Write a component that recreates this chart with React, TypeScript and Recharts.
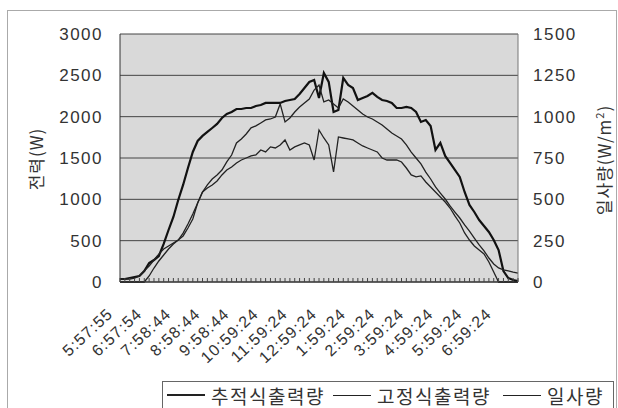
import React from 'react';
import { LineChart, Line, XAxis, YAxis, CartesianGrid } from 'recharts';

// 시각 라벨 (6칸마다 하나, 약 10분 간격 데이터)
const timeLabels = [
  '5:57:55', '6:57:54', '7:58:44', '8:58:44', '9:58:44', '10:59:24', '11:59:24',
  '12:59:24', '1:59:24', '2:59:24', '3:59:24', '4:59:24', '5:59:24', '6:59:24',
];

// 추적식 출력량 (W)
const trackingOutput = [
  36, 36, 48, 60, 72, 133, 230, 266, 315, 460, 629, 787, 992, 1174, 1379, 1573,
  1706, 1767, 1815, 1863, 1912, 1984, 2033, 2057, 2093, 2093, 2105, 2105, 2129,
  2141, 2166, 2166, 2166, 2166, 2190, 2202, 2214, 2275, 2347, 2420, 2444, 2226,
  2529, 2420, 2057, 2081, 2468, 2384, 2347, 2202, 2226, 2250, 2287, 2239, 2202,
  2190, 2166, 2105, 2105, 2117, 2105, 2057, 1936, 1960, 1887, 1597, 1682, 1525,
  1440, 1355, 1271, 1089, 932, 847, 750, 678, 605, 508, 387, 133, 48, 24, 12,
];

// 고정식 출력량 (W)
const fixedOutput = [
  0, 0, 0, 0, 0, 0, 73, 169, 254, 327, 399, 460, 508, 557, 653, 762, 956, 1089,
  1137, 1174, 1222, 1295, 1355, 1392, 1440, 1476, 1500, 1525, 1537, 1597, 1573,
  1634, 1621, 1658, 1718, 1597, 1634, 1658, 1682, 1658, 1476, 1839, 1742, 1658,
  1331, 1755, 1742, 1730, 1718, 1682, 1646, 1621, 1597, 1573, 1500, 1476, 1476,
  1476, 1452, 1379, 1295, 1271, 1283, 1210, 1150, 1089, 1029, 968, 895, 799, 714,
  593, 508, 436, 387, 339, 242, 121, 0, 0, 0, 0, 0,
];

// 일사량 (W/m²)
const irradiance = [
  18, 18, 18, 24, 36, 67, 97, 133, 169, 200, 218, 236, 254, 296, 351, 411, 478,
  544, 587, 623, 647, 677, 726, 768, 841, 865, 895, 932, 944, 962, 980, 986, 998,
  1077, 968, 992, 1028, 1058, 1083, 1107, 1161, 1191, 1089, 1101, 1077, 1052,
  1107, 1089, 1065, 1040, 1016, 998, 986, 968, 950, 925, 901, 883, 865, 829, 786,
  750, 714, 665, 623, 575, 538, 502, 460, 423, 387, 345, 308, 266, 224, 188, 145,
  109, 85, 73, 67, 60, 54,
];

const powerTicks = [0, 500, 1000, 1500, 2000, 2500, 3000];
const irrTicks = [0, 250, 500, 750, 1000, 1250, 1500];

const data = trackingOutput.map((v, i) => ({
  i,
  tracking: v,
  fixed: fixedOutput[i],
  irr: irradiance[i],
}));

const allTicks = data.map((d) => d.i);

const axisFont = 'Liberation Sans, Arial, sans-serif';
const krFont = '"Noto Sans CJK KR", "Noto Sans", sans-serif';

function TimeTick(props: any) {
  const { x, y, payload } = props;
  const idx = payload.value as number;
  const label = idx % 6 === 0 ? timeLabels[idx / 6] : null;
  const tx = x - 6;
  const ty = y + 33;
  return (
    <g>
      <line x1={x} y1={y} x2={x} y2={y - 4} stroke="#444" strokeWidth={1} />
      {label && (
        <text
          x={tx}
          y={ty}
          transform={`rotate(-43, ${tx}, ${ty})`}
          textAnchor="end"
          fontSize={16}
          fontFamily={axisFont}
          letterSpacing={1.2}
          fill="#333"
        >
          {label}
        </text>
      )}
    </g>
  );
}

function LegendItem({ left, width, thick, text }: { left: number; width: number; thick: boolean; text: string }) {
  return (
    <div style={{ position: 'absolute', left, top: 0, height: 26, display: 'flex', alignItems: 'center' }}>
      <div style={{ width, height: thick ? 2 : 1, background: '#222', marginRight: 6 }} />
      <span style={{ fontSize: 19, letterSpacing: 1.5, color: '#333', fontFamily: krFont, whiteSpace: 'nowrap' }}>
        {text}
      </span>
    </div>
  );
}

export default function App() {
  return (
    <div style={{ position: 'absolute', left: 0, top: 0, width: 618, height: 408, background: '#fff', overflow: 'hidden' }}>
      <div style={{ position: 'absolute', left: 7, top: 10, width: 608, height: 420, border: '1px solid #aaa' }} />
      <div style={{ position: 'absolute', left: 0, top: 0 }}>
        <LineChart width={618} height={408} data={data} margin={{ top: 34, right: 0, bottom: 0, left: 0 }}>
          <CartesianGrid yAxisId="left" vertical={false} stroke="#444" fill="#d9d9d9" />
          <XAxis
            dataKey="i"
            type="number"
            domain={[0, 82]}
            ticks={allTicks}
            interval={0}
            height={126}
            tickSize={0}
            tickMargin={0}
            axisLine={{ stroke: '#222' }}
            tickLine={false}
            tick={<TimeTick />}
          />
          <YAxis
            yAxisId="left"
            width={120}
            domain={[0, 3000]}
            ticks={powerTicks}
            tickSize={0}
            tickMargin={17}
            axisLine={{ stroke: '#333' }}
            tickLine={false}
            tick={{ fontSize: 17, fill: '#333', fontFamily: axisFont, letterSpacing: 1.5 }}
          />
          <YAxis
            yAxisId="right"
            orientation="right"
            width={100}
            domain={[0, 1500]}
            ticks={irrTicks}
            tickSize={0}
            tickMargin={15}
            axisLine={{ stroke: '#777' }}
            tickLine={false}
            tick={{ fontSize: 17, fill: '#333', fontFamily: axisFont, letterSpacing: 1.5, textAnchor: 'start' }}
          />
          <Line yAxisId="left" dataKey="tracking" stroke="#111" strokeWidth={2.2} dot={false} isAnimationActive={false} />
          <Line yAxisId="left" dataKey="fixed" stroke="#222" strokeWidth={1.3} dot={false} isAnimationActive={false} />
          <Line yAxisId="right" dataKey="irr" stroke="#222" strokeWidth={1.3} dot={false} isAnimationActive={false} />
        </LineChart>
      </div>
      <div
        style={{
          position: 'absolute', left: 35, top: 159, transform: 'translate(-50%, -50%) rotate(-90deg)',
          fontSize: 17, color: '#333', fontFamily: krFont, whiteSpace: 'nowrap', letterSpacing: 1,
        }}
      >
        전력(W)
      </div>
      <div
        style={{
          position: 'absolute', left: 603, top: 160, transform: 'translate(-50%, -50%) rotate(-90deg)',
          fontSize: 17, color: '#333', fontFamily: krFont, whiteSpace: 'nowrap', letterSpacing: 1,
        }}
      >
        일사량(W/m<sup style={{ fontSize: 11 }}>2</sup>)
      </div>
      <div style={{ position: 'absolute', left: 162, top: 381, width: 450, height: 40, border: '1px solid #666' }}>
        <LegendItem left={4} width={38} thick text="추적식출력량" />
        <LegendItem left={170} width={38} thick={false} text="고정식출력량" />
        <LegendItem left={340} width={38} thick={false} text="일사량" />
      </div>
    </div>
  );
}
